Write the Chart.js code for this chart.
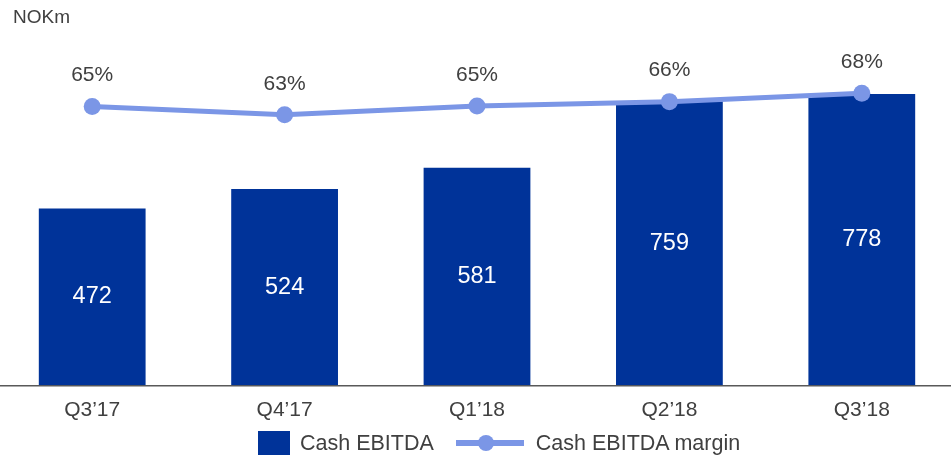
<!DOCTYPE html>
<html>
<head>
<meta charset="utf-8">
<script src="https://cdn.jsdelivr.net/npm/chart.js@4.4.0/dist/chart.umd.min.js"></script>
<style>
  html, body { margin: 0; padding: 0; background: #fff; overflow: hidden; }
  body { width: 951px; height: 458px; position: relative; font-family: "Liberation Sans", Arial, sans-serif; color: #404040; }
  #chart { position: absolute; left: -4px; top: 0; }
  #unit { position: absolute; left: 13px; top: 6px; font-size: 19px; }
  #legend { position: absolute; left: 258px; top: 431px; height: 24px; display: flex; align-items: center; font-size: 21.5px; }
  .box { width: 32px; height: 24px; background: #003399; margin-right: 10px; }
  .line { position: relative; width: 68px; height: 6px; background: #7b96e6; margin: 0 12px 0 22px; }
  .line span { position: absolute; left: 22px; top: -5px; width: 16px; height: 16px; border-radius: 50%; background: #7b96e6; }
</style>
</head>
<body>
<canvas id="chart" width="962" height="458"></canvas>
<div id="unit">NOKm</div>
<div id="legend">
  <div class="box"></div><div>Cash EBITDA</div>
  <div class="line"><span></span></div><div>Cash EBITDA margin</div>
</div>
<script>
const quarters = ["Q3\u201917", "Q4\u201917", "Q1\u201918", "Q2\u201918", "Q3\u201918"];
const cashEbitda = [472, 524, 581, 759, 778];
const ebitdaMargin = [65.0, 63.1, 65.1, 66.1, 68.0];

const textColor = "#404040";
const barColor = "#003399";
const lineColor = "#7b96e6";

// value labels: white numbers inside bars, percentages above the points
const valueLabels = {
  id: "valueLabels",
  afterDatasetsDraw(chart) {
    const ctx = chart.ctx;
    ctx.save();
    ctx.textAlign = "center";
    ctx.textBaseline = "middle";

    const bars = chart.getDatasetMeta(1);
    ctx.fillStyle = "#ffffff";
    ctx.font = "23.5px 'Liberation Sans', Arial, sans-serif";
    bars.data.forEach((bar, i) => {
      ctx.fillText(cashEbitda[i], bar.x, (bar.y + bar.base) / 2);
    });

    const pts = chart.getDatasetMeta(0);
    ctx.fillStyle = textColor;
    ctx.font = "21px 'Liberation Sans', Arial, sans-serif";
    pts.data.forEach((pt, i) => {
      ctx.fillText(Math.round(ebitdaMargin[i]) + "%", pt.x, pt.y - 31);
    });
    ctx.restore();
  }
};

const ctx = document.getElementById("chart").getContext("2d");
new Chart(ctx, {
  data: {
    labels: quarters,
    datasets: [
      {
        type: "line",
        label: "Cash EBITDA margin",
        data: ebitdaMargin,
        yAxisID: "y1",
        borderColor: lineColor,
        backgroundColor: lineColor,
        borderWidth: 5,
        pointRadius: 8.5,
        pointBorderWidth: 0,
        pointBackgroundColor: lineColor,
        tension: 0
      },
      {
        type: "bar",
        label: "Cash EBITDA",
        data: cashEbitda,
        yAxisID: "y",
        backgroundColor: barColor,
        barPercentage: 0.555,
        categoryPercentage: 1
      }
    ]
  },
  options: {
    responsive: false,
    animation: false,
    layout: { autoPadding: false, padding: { top: 30, bottom: 23.5, left: 0, right: 0 } },
    plugins: {
      legend: { display: false },
      tooltip: { enabled: false }
    },
    scales: {
      x: {
        grid: { display: false, drawTicks: false },
        border: { display: true, color: "#595959", width: 1.5 },
        ticks: {
          color: textColor,
          padding: 12,
          font: { family: "'Liberation Sans', Arial, sans-serif", size: 21 }
        }
      },
      y: {
        display: false,
        min: 0,
        max: 949
      },
      y1: {
        display: false,
        min: 1.59,
        max: 82.39
      }
    }
  },
  plugins: [valueLabels]
});
</script>
</body>
</html>
